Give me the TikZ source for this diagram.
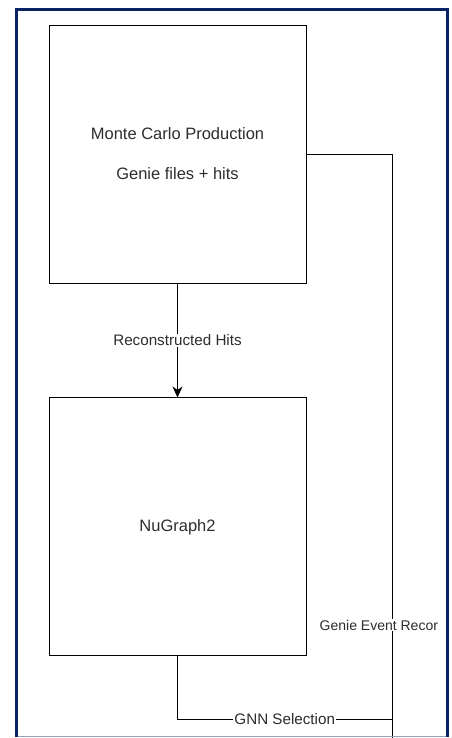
\documentclass[tikz,border=0pt]{standalone}
\usepackage{fontspec}
\setmainfont{Liberation Sans}
\usepackage{xcolor}
\usepackage{tikz}
\usetikzlibrary{arrows.meta,positioning}

\definecolor{framenavy}{RGB}{8,36,102}
\definecolor{edgegray}{RGB}{150,160,185}
\definecolor{txtgray}{RGB}{45,45,45}

\begin{document}
\begin{tikzpicture}[
  x=1pt, y=1pt,
  node distance=114pt,
  stage/.style={rectangle, draw, line width=0.9pt, minimum width=257pt, minimum height=258pt, align=center, text=txtgray, font=\fontsize{16.5}{20}\selectfont},
  lbl/.style={fill=white, inner sep=1pt, text=txtgray, font=\fontsize{15.2}{18}\selectfont},
  arr/.style={-{Stealth[length=11pt,width=10pt]}, line width=0.9pt},
  wire/.style={line width=0.9pt}
]
  \useasboundingbox (0,0) rectangle (451,738);

  \node[stage] (mc) at (177.5,584) {Monte Carlo Production\\[20pt]Genie files + hits};
  \node[stage, below=of mc] (ng) {NuGraph2};

  \coordinate (bend) at (392,19);
  \coordinate (out) at (392,0);

  \draw[arr] (mc) -- node[lbl]{Reconstructed Hits} (ng);
  \draw[wire] (ng.south) |- node[lbl, pos=0.75]{GNN Selection} (bend);
  \draw[wire] (mc.east) -| (out);
  \node[lbl, anchor=west, font=\fontsize{14}{17}\selectfont] (rec) at (318.5,113) {Genie Event Recor};

  \draw[framenavy, line width=3pt] (16.5,1) -- (16.5,728.5) -- (447,728.5) -- (447,1);
  \draw[edgegray, line width=1pt] (18,1.5) -- (445.5,1.5);
\end{tikzpicture}
\end{document}
